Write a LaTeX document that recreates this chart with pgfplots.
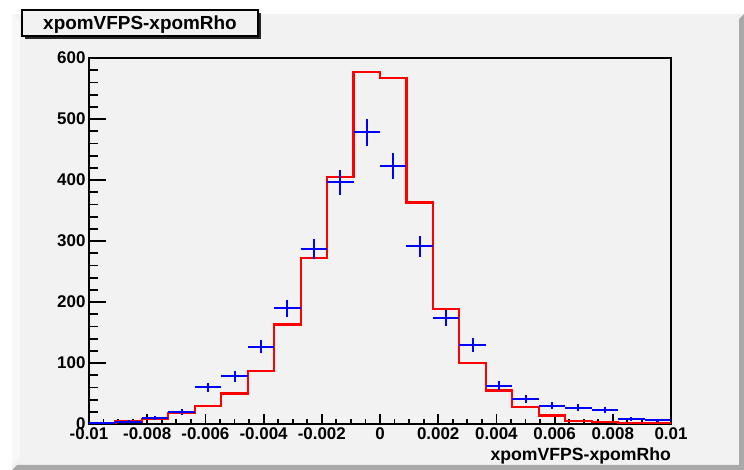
\documentclass[border=0pt]{standalone}
\usepackage{fontspec}
\setmainfont{Liberation Sans}
\usepackage{pgfplots}
\pgfplotsset{compat=1.18}
\definecolor{canvas}{HTML}{F2F2F2}
\definecolor{lightbevel}{HTML}{F8F8F8}
\definecolor{bevel}{HTML}{A8A8A8}
\definecolor{rootred}{HTML}{FF0000}
\definecolor{rootblue}{HTML}{0000FF}
\begin{document}
\begin{tikzpicture}
\useasboundingbox (0,0) rectangle (744bp,470bp);
\fill[white] (0,0) rectangle (744bp,470bp);
\fill[canvas] (12bp,0) rectangle (744bp,456bp);
\fill[lightbevel] (12bp,5bp) -- (12bp,456bp) -- (20bp,448bp) -- (20bp,13bp) -- cycle;
\fill[bevel] (12bp,0) -- (744bp,0) -- (744bp,456bp) -- (739bp,451bp) -- (739bp,5bp) -- (17bp,5bp) -- cycle;
\begin{axis}[
  at={(89bp,46bp)}, anchor=south west,
  scale only axis, width=582bp, height=366bp,
  xmin=-0.01, xmax=0.01, ymin=0, ymax=600,
  axis background/.style={fill=canvas},
  axis line style={line width=2.2bp, black},
  tick align=inside, xtick pos=bottom, ytick pos=left,
  scaled x ticks=false, scaled y ticks=false,
  xtick={-0.01,-0.008,-0.006,-0.004,-0.002,0,0.002,0.004,0.006,0.008,0.01},
  xticklabels={-0.01,-0.008,-0.006,-0.004,-0.002,0,0.002,0.004,0.006,0.008,0.01},
  minor x tick num=3,
  ytick={0,100,200,300,400,500,600},
  yticklabels={0,100,200,300,400,500,600},
  minor y tick num=4,
  every tick/.style={black, line width=1.8bp},
  xtick style={/pgfplots/major tick length=10bp, /pgfplots/minor tick length=5bp},
  ytick style={/pgfplots/major tick length=17bp, /pgfplots/minor tick length=9bp},
  ticklabel style={font=\bfseries\fontsize{17}{17}\selectfont},
  xlabel={xpomVFPS-xpomRho},
  xlabel style={at={(rel axis cs:1,0)}, anchor=base east, yshift=-36bp, inner sep=0pt,
    font=\bfseries\fontsize{17.7}{18}\selectfont},
  clip=false,
]
\addplot[rootred, line width=2.2bp, const plot mark left] coordinates {
  (-0.0100000,2) (-0.0090909,4) (-0.0081818,8) (-0.0072727,18)
  (-0.0063636,30) (-0.0054545,50) (-0.0045455,87) (-0.0036364,163)
  (-0.0027273,272) (-0.0018182,405) (-0.0009091,577) (0.0000000,567)
  (0.0009091,363) (0.0018182,188) (0.0027273,100) (0.0036364,55)
  (0.0045455,28) (0.0054545,14) (0.0063636,5) (0.0072727,3)
  (0.0081818,2) (0.0090909,2) (0.0100000,2)
};
\addplot[rootblue, draw=none, mark=none,
  error bars/.cd, x dir=both, x explicit, y dir=both, y explicit,
  error mark=none, error bar style={rootblue, line width=2bp}]
  table[x=x, y=y, x error=ex, y error=ey] {
  x          y    ex          ey
  -0.0095455 1    0.00045455  1.00
  -0.0086364 4    0.00045455  2.00
  -0.0077273 10   0.00045455  3.16
  -0.0068182 20   0.00045455  4.47
  -0.0059091 60   0.00045455  7.75
  -0.0050000 78   0.00045455  8.83
  -0.0040909 127  0.00045455  11.27
  -0.0031818 190  0.00045455  13.78
  -0.0022727 287  0.00045455  16.94
  -0.0013636 396  0.00045455  19.90
  -0.0004545 478  0.00045455  21.86
   0.0004545 423  0.00045455  20.57
   0.0013636 291  0.00045455  17.06
   0.0022727 173  0.00045455  13.15
   0.0031818 129  0.00045455  11.36
   0.0040909 63   0.00045455  7.94
   0.0050000 41   0.00045455  6.40
   0.0059091 30   0.00045455  5.48
   0.0068182 27   0.00045455  5.20
   0.0077273 23   0.00045455  4.80
   0.0086364 8    0.00045455  2.83
   0.0095455 6    0.00045455  2.45
};
\end{axis}
\fill[black!85] (25bp,431bp) rectangle (261bp,457bp);
\draw[fill=canvas, line width=1.2bp] (22bp,434bp) rectangle (258bp,460bp);
\node[font=\bfseries\fontsize{19}{19}\selectfont, anchor=base, inner sep=0pt] at (140bp,440bp) {xpomVFPS-xpomRho};
\end{tikzpicture}
\end{document}
